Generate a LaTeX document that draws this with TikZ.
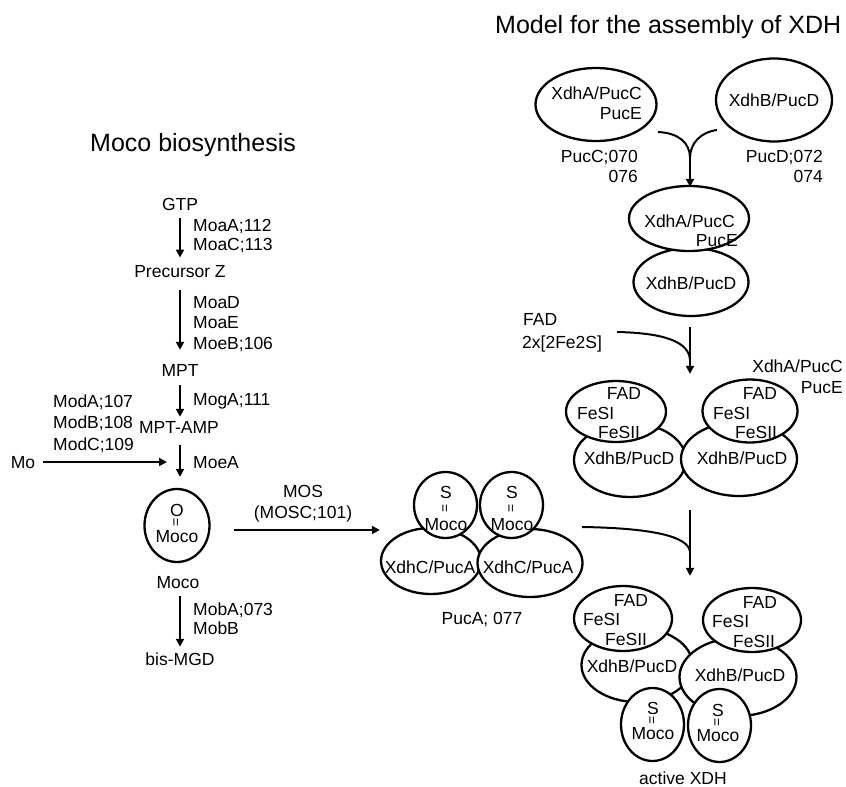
\documentclass[tikz,border=0pt]{standalone}
\usepackage{fontspec}
\setmainfont{Liberation Sans}
\usetikzlibrary{shapes.geometric,arrows.meta}
\begin{document}
\begin{tikzpicture}[x=1pt,y=-1pt,
 txt/.style={font=\fontsize{17.5}{21}\selectfont, inner sep=0pt, text height=12.5pt, text depth=0pt},
 ttl/.style={font=\fontsize{25}{30}\selectfont, inner sep=0pt, text height=18pt, text depth=0pt},
 dbl/.style={font=\fontsize{14}{14}\selectfont, inner sep=0pt, rotate=90},
 ell/.style 2 args={ellipse, draw, line width=2.3pt, fill=white, inner sep=0pt, minimum width=#1, minimum height=#2},
 arr/.style={line width=2pt, -{Triangle[length=8pt,width=8pt]}},
 ln/.style={line width=2pt},
]
\useasboundingbox (0,0) rectangle (846,787);

% titles
\node[ttl, anchor=west] (t1) at (495,24) {Model for the assembly of XDH};
\node[ttl, anchor=west] (t2) at (90,142.5) {Moco biosynthesis};

% left column
\node[txt] (gtp) at (180,204) {GTP};
\node[txt, anchor=west] (l1a) at (193,225) {MoaA;112};
\node[txt, anchor=west] (l1b) at (193,244) {MoaC;113};
\node[txt] (prz) at (180,271) {Precursor Z};
\node[txt, anchor=west] (l2a) at (193,302) {MoaD};
\node[txt, anchor=west] (l2b) at (193,322) {MoaE};
\node[txt, anchor=west] (l2c) at (193,343) {MoeB;106};
\node[txt] (mpt) at (180,370) {MPT};
\node[txt, anchor=west] (l3) at (193,399) {MogA;111};
\node[txt, anchor=west] (md1) at (53,401) {ModA;107};
\node[txt, anchor=west] (md2) at (53,422) {ModB;108};
\node[txt, anchor=west] (md3) at (53,444) {ModC;109};
\node[txt] (amp) at (179,427) {MPT-AMP};
\node[txt, anchor=west] (l4) at (193,462) {MoeA};
\node[txt] (mo) at (23,462) {Mo};

\node[ell={65}{73}] (mococ) at (177,525.5) {};
\node[txt] (o1) at (177,510) {O};
\node[dbl] (b1) at (177,522) {=};
\node[txt] (mc1) at (177,536) {Moco};

\node[txt] (mocol) at (178,582) {Moco};
\node[txt, anchor=west] (l5a) at (193,609) {MobA;073};
\node[txt, anchor=west] (l5b) at (193,628) {MobB};
\node[txt] (bis) at (180,659) {bis-MGD};

% MOS
\node[txt] (mos) at (303,491) {MOS};
\node[txt] (mosc) at (303,512) {(MOSC;101)};

% PucA complex
\node[ell={100}{66}] (xcl) at (431,561) {};
\node[ell={105}{68}] (xcr) at (530,563) {};
\node[ell={63}{66}] (sml) at (445.5,505) {};
\node[ell={63}{66}] (smr) at (511.5,505) {};
\node[txt] (xclt) at (430,567) {XdhC/PucA};
\node[txt] (xcrt) at (528,567) {XdhC/PucA};
\node[txt] (s1) at (446,492) {S};
\node[dbl] (b2) at (446,508.5) {=};
\node[txt] (m2) at (446,524) {Moco};
\node[txt] (s2) at (512,492) {S};
\node[dbl] (b3) at (512,508.5) {=};
\node[txt] (m3) at (512,524) {Moco};
\node[txt] (puca) at (482,618) {PucA; 077};

% complex 1
\node[ell={121}{73}] (c1a) at (596,104.5) {};
\node[txt, anchor=east] (c1at) at (642,93) {XdhA/PucC};
\node[txt, anchor=east] (c1ae) at (642,113) {PucE};
\node[ell={116}{83}] (c1b) at (774,100) {};
\node[txt] (c1bt) at (774,100) {XdhB/PucD};
\node[txt, anchor=east] (pc1) at (638,156) {PucC;070};
\node[txt, anchor=east] (pc2) at (638,176) {076};
\node[txt, anchor=east] (pd1) at (823,156) {PucD;072};
\node[txt, anchor=east] (pd2) at (823,176) {074};

% complex 2
\node[ell={115}{68}] (c2b) at (691,282) {};
\node[ell={120}{65}] (c2a) at (689,218.5) {};
\node[txt, anchor=east] (c2at) at (735,221) {XdhA/PucC};
\node[txt, anchor=east] (c2ae) at (738,240.5) {PucE};
\node[txt] (c2bt) at (691,283) {XdhB/PucD};

\node[txt, anchor=west] (fad) at (523,319) {FAD};
\node[txt, anchor=west] (fes) at (522,342) {2x[2Fe2S]};
\node[txt, anchor=east] (xa3) at (843,366) {XdhA/PucC};
\node[txt, anchor=east] (xe3) at (843,387) {PucE};

% complex 3
\node[ell={112}{74}] (c3bl) at (630,460) {};
\node[ell={116}{74}] (c3br) at (739,459) {};
\node[ell={100}{61}] (c3fl) at (616,411.5) {};
\node[ell={95}{63}] (c3fr) at (750,411) {};
\node[txt] (c3fl1) at (624,393) {FAD};
\node[txt, anchor=west] (c3fl2) at (577,413) {FeSI};
\node[txt, anchor=west] (c3fl3) at (598,432) {FeSII};
\node[txt] (c3fr1) at (760,393) {FAD};
\node[txt, anchor=west] (c3fr2) at (713,413) {FeSI};
\node[txt, anchor=west] (c3fr3) at (735,432) {FeSII};
\node[txt] (c3blt) at (629,458) {XdhB/PucD};
\node[txt] (c3brt) at (742,458) {XdhB/PucD};

% complex 4
\node[ell={111}{74}] (c4bl) at (637,665) {};
\node[ell={117}{78}] (c4br) at (738,677) {};
\node[ell={98}{65}] (c4fl) at (623,618.5) {};
\node[ell={98}{64}] (c4fr) at (752,620) {};
\node[ell={63}{73}] (c4ml) at (652.5,724.5) {};
\node[ell={63}{73}] (c4mr) at (719.5,725.5) {};
\node[txt] (c4fl1) at (631,600) {FAD};
\node[txt, anchor=west] (c4fl2) at (583,619) {FeSI};
\node[txt, anchor=west] (c4fl3) at (605,639) {FeSII};
\node[txt] (c4fr1) at (760,602) {FAD};
\node[txt, anchor=west] (c4fr2) at (712,621) {FeSI};
\node[txt, anchor=west] (c4fr3) at (733,641) {FeSII};
\node[txt] (c4blt) at (632,666) {XdhB/PucD};
\node[txt] (c4brt) at (740,675) {XdhB/PucD};
\node[txt] (c4s1) at (653,708) {S};
\node[dbl] (c4b1) at (653,720.5) {=};
\node[txt] (c4m1) at (653,733) {Moco};
\node[txt] (c4s2) at (718,710) {S};
\node[dbl] (c4b2) at (718,722.5) {=};
\node[txt] (c4m2) at (718,735) {Moco};
\node[txt] (act) at (683,778.5) {active XDH};

% left column arrows
\draw[arr, shorten <=8pt, shorten >=7pt] (gtp.south) -- (gtp.south |- prz.north);
\draw[arr, shorten <=12.75pt, shorten >=13.75pt] (prz.south) -- (prz.south |- mpt.north);
\draw[arr, shorten <=8.75pt, shorten >=3.75pt] (mpt.south) -- (mpt.south |- amp.north);
\draw[arr, shorten <=11.75pt, shorten >=11pt] (amp.south -| mpt.south) -- (mpt.south |- mococ.north);
\draw[arr, shorten <=8pt, shorten >=13pt] (mo.east) -- (mo.east -| mpt.south);
\draw[arr, shorten <=7.75pt, shorten >=5.75pt] (mocol.south -| mpt.south) -- (mpt.south |- bis.north);
\coordinate (mosE) at ([yshift=-4.5pt]mococ.east);
\draw[arr, shorten <=23pt] (mosE) -- (mosE -| xcl.west);

% merge 1
\coordinate (a1) at (658,132);
\coordinate (a2) at (717,130);
\coordinate (j1) at (690,158);
\draw[ln] (a1) .. controls (679,133) and (690,143) .. (j1);
\draw[ln] (a2) .. controls (701,132) and (690,143) .. (j1);
\draw[arr, shorten >=-2pt] (j1) -- (j1 |- c2a.north);

% merge 2
\coordinate (f1) at (617,332);
\coordinate (j2s) at (690,327);
\coordinate (j2) at (690,360);
\draw[ln] (f1) .. controls (665,333) and (689,342) .. (j2);
\draw[arr, shorten >=6pt] (j2s) -- (j2s |- c3fl.north);

% merge 3
\coordinate (g1) at (582,527);
\coordinate (j3s) at (690,510);
\coordinate (j3) at (690,552);
\draw[ln] (g1) .. controls (650,528) and (689,536) .. (j3);
\draw[arr, shorten >=9pt] (j3s) -- (j3s |- c4fl.north);
\end{tikzpicture}
\end{document}
